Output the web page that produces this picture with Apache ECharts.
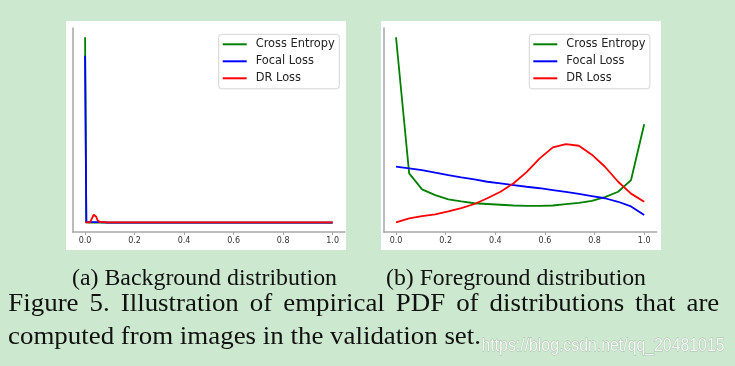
<!DOCTYPE html>
<html>
<head>
<meta charset="utf-8">
<script src="https://cdn.jsdelivr.net/npm/echarts@6/dist/echarts.min.js"></script>
<style>
html,body{margin:0;padding:0;background:#cce8cf;}
#chart{width:735px;height:366px;}
</style>
</head>
<body>
<div id="chart"></div>
<script>
// ---- Data ----
const seriesNames = ['Cross Entropy', 'Focal Loss', 'DR Loss'];
const xTicks = [0.0, 0.2, 0.4, 0.6, 0.8, 1.0];

// (a) Background distribution
const bgX     = [0, 0.005, 0.01, 0.02, 0.025, 0.03, 0.035, 0.04, 0.045, 0.05, 0.055, 0.06, 0.07, 0.08, 0.09, 0.1, 0.2, 0.3, 0.4, 0.5, 0.6, 0.7, 0.8, 0.9, 1.0];
const bgCE    = [1.0, 0.002, 0.001, 0.001, 0.001, 0.001, 0.001, 0.001, 0.001, 0.001, 0.001, 0.001, 0.001, 0.001, 0.001, 0.001, 0.001, 0.001, 0.001, 0.001, 0.001, 0.001, 0.001, 0.001, 0.001];
const bgFocal = [0.9, 0.004, 0.003, 0.003, 0.003, 0.003, 0.003, 0.003, 0.003, 0.003, 0.003, 0.003, 0.002, 0.002, 0.001, 0.001, 0.001, 0.001, 0.001, 0.001, 0.001, 0.001, 0.001, 0.001, 0.001];
const bgDR    = [0.002, 0.002, 0.002, 0.002, 0.01, 0.03, 0.044, 0.046, 0.032, 0.014, 0.006, 0.004, 0.003, 0.003, 0.002, 0.002, 0.002, 0.002, 0.002, 0.002, 0.002, 0.002, 0.002, 0.002, 0.002];

// (b) Foreground distribution
const fgX     = [0, 0.053, 0.105, 0.158, 0.211, 0.263, 0.316, 0.368, 0.421, 0.474, 0.526, 0.579, 0.632, 0.684, 0.737, 0.789, 0.842, 0.895, 0.947, 1.0];
const fgCE    = [1.0, 0.266, 0.18, 0.149, 0.126, 0.115, 0.105, 0.101, 0.097, 0.093, 0.091, 0.091, 0.093, 0.1, 0.107, 0.118, 0.138, 0.167, 0.23, 0.531];
const fgFocal = [0.302, 0.293, 0.284, 0.27, 0.257, 0.245, 0.234, 0.221, 0.212, 0.203, 0.194, 0.186, 0.176, 0.166, 0.155, 0.144, 0.132, 0.113, 0.088, 0.042];
const fgDR    = [0.002, 0.024, 0.036, 0.045, 0.061, 0.079, 0.101, 0.132, 0.167, 0.213, 0.273, 0.347, 0.406, 0.424, 0.415, 0.367, 0.302, 0.221, 0.157, 0.113];

// Caption text
const captionA = '(a) Background distribution';
const captionB = '(b) Foreground distribution';
const line1Words = ['Figure', '5.', 'Illustration', 'of', 'empirical', 'PDF', 'of', 'distributions', 'that', 'are'];
const line2 = 'computed from images in the validation set.';
const watermark = 'https://blog.csdn.net/qq_20481015';

// ---- Styles ----
const colors = ['#008000', '#0000ff', '#ff0000'];
const spine = '#a6a6a6';
const zip = (xs, ys) => xs.map((x, i) => [x, ys[i]]);

const mctx = document.createElement('canvas').getContext('2d');
function textW(str, font) { mctx.font = font; return mctx.measureText(str).width; }

function xAxisCfg(gi) {
  return {
    gridIndex: gi, type: 'value', min: -0.05, max: 1.05,
    axisLine: { show: true, onZero: false, lineStyle: { color: spine, width: 1.5 } },
    axisTick: { show: true, length: 3, customValues: xTicks, lineStyle: { color: spine, width: 1 } },
    axisLabel: { customValues: xTicks, formatter: v => v.toFixed(1), fontSize: 8, color: '#333', margin: 4.5, fontFamily: 'DejaVu Sans' },
    splitLine: { show: false }
  };
}
function yAxisCfg(gi) {
  return {
    gridIndex: gi, type: 'value', min: -0.05, max: 1.05,
    axisLine: { show: true, onZero: false, lineStyle: { color: spine, width: 1.5 } },
    axisTick: { show: false }, axisLabel: { show: false }, splitLine: { show: false }
  };
}
function legendCfg(left) {
  return {
    left: left, top: 34.3, orient: 'vertical', icon: 'rect',
    itemWidth: 24, itemHeight: 2, itemGap: 4, selectedMode: false,
    padding: [3.5, 4.5, 4, 4],
    backgroundColor: '#fff', borderColor: '#d4d4d4', borderWidth: 1, borderRadius: 3,
    textStyle: { fontFamily: 'DejaVu Sans', fontSize: 11.4, color: '#222', lineHeight: 13, padding: [0, 0, 0, 4] },
    data: seriesNames
  };
}
function lineSeries(name, data, gi, ci) {
  return {
    name: name, type: 'line', xAxisIndex: gi, yAxisIndex: gi, data: data,
    showSymbol: false, symbol: 'none', z: 5,
    lineStyle: { color: colors[ci], width: 1.8 }, itemStyle: { color: colors[ci] }
  };
}

// ---- Caption layout (fit text to the reference extents) ----
const fCap = '23px "Liberation Serif"';
const fBody = '26px "Liberation Serif"';
const fMark = '18px "Liberation Sans"';
const sxA = 265 / textW(captionA, fCap);
const sxB = 260 / textW(captionB, fCap);
const sxBody = 473 / textW(line2, fBody);
const sxMark = 243 / textW(watermark, fMark);

const graphics = [
  { type: 'rect', z: -10, shape: { x: 66, y: 21, width: 280, height: 229 }, style: { fill: '#fff' } },
  { type: 'rect', z: -10, shape: { x: 381, y: 21, width: 280, height: 229 }, style: { fill: '#fff' } },
  { type: 'text', x: 72, y: 279, scaleX: sxA, style: { text: captionA, font: fCap, fill: '#111', verticalAlign: 'middle' } },
  { type: 'text', x: 386, y: 279, scaleX: sxB, style: { text: captionB, font: fCap, fill: '#111', verticalAlign: 'middle' } },
  { type: 'text', x: 8, y: 337, scaleX: sxBody, style: { text: line2, font: fBody, fill: '#111', verticalAlign: 'middle' } },
  { type: 'text', x: 481.5, y: 346.5, z: 10, scaleX: sxMark, style: { text: watermark, font: fMark, fill: 'rgba(255,255,255,0.8)', stroke: 'rgba(110,110,110,0.35)', lineWidth: 0.8, verticalAlign: 'middle' } }
];
// justified first line: 8.3 -> 719.3
const wordWs = line1Words.map(w => textW(w, fBody) * sxBody);
const totalW = wordWs.reduce((a, b) => a + b, 0);
const gap = (711 - totalW) / (line1Words.length - 1);
let cx = 8.3;
line1Words.forEach((w, i) => {
  graphics.push({ type: 'text', x: cx, y: 304, scaleX: sxBody, style: { text: w, font: fBody, fill: '#111', verticalAlign: 'middle' } });
  cx += wordWs[i] + gap;
});

const chart = echarts.init(document.getElementById('chart'), null, { renderer: 'canvas' });
chart.setOption({
  animation: false,
  backgroundColor: '#cce8cf',
  grid: [
    { left: 72.7, right: 390, top: 28, bottom: 134 },
    { left: 383.6, right: 78.4, top: 28, bottom: 134 }
  ],
  xAxis: [xAxisCfg(0), xAxisCfg(1)],
  yAxis: [yAxisCfg(0), yAxisCfg(1)],
  legend: [legendCfg(218.7), legendCfg(529.3)],
  series: [
    lineSeries(seriesNames[0], zip(bgX, bgCE), 0, 0),
    lineSeries(seriesNames[1], zip(bgX, bgFocal), 0, 1),
    lineSeries(seriesNames[2], zip(bgX, bgDR), 0, 2),
    lineSeries(seriesNames[0], zip(fgX, fgCE), 1, 0),
    lineSeries(seriesNames[1], zip(fgX, fgFocal), 1, 1),
    lineSeries(seriesNames[2], zip(fgX, fgDR), 1, 2)
  ],
  graphic: graphics
});
</script>
</body>
</html>
